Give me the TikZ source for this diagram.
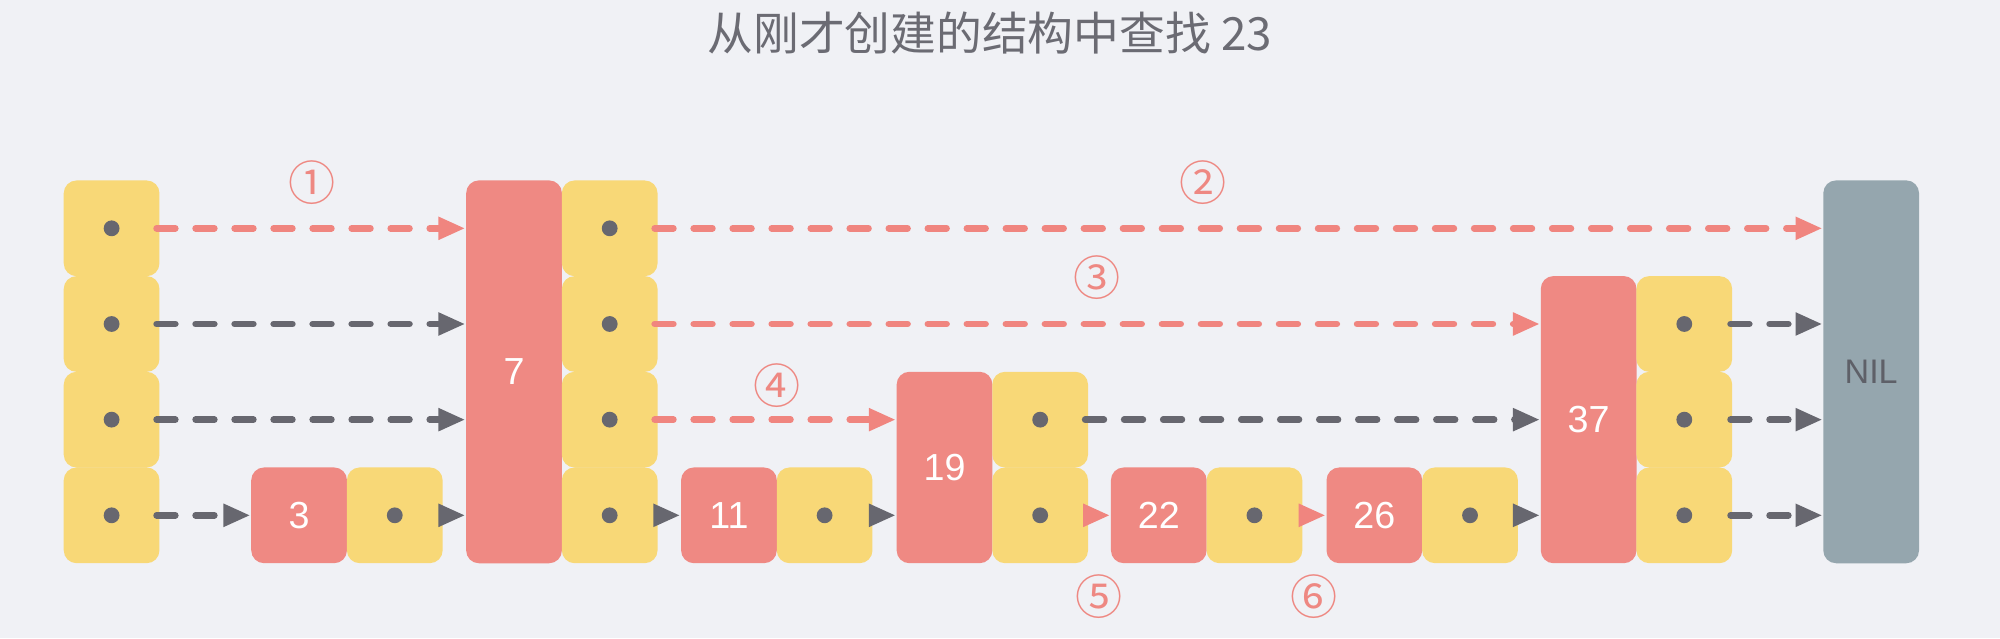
\documentclass[tikz,border=0pt]{standalone}
\usepackage{fontspec}
\setmainfont{Liberation Sans}
\newfontfamily\cjkf{Noto Sans CJK SC}
\usetikzlibrary{arrows.meta}
\definecolor{bgc}{HTML}{F0F1F5}
\definecolor{yel}{HTML}{F8D877}
\definecolor{redb}{HTML}{EF8983}
\definecolor{reda}{HTML}{F0857F}
\definecolor{grya}{HTML}{67676F}
\definecolor{nilc}{HTML}{95A6AE}
\definecolor{niltxt}{HTML}{5E6068}
\definecolor{titc}{HTML}{6B6B73}
\definecolor{numc}{HTML}{EE8882}
\tikzset{
  box/.style={rounded corners=0.1cm, inner sep=0pt, minimum width=0.75cm},
  ybox/.style={box, fill=yel, minimum height=0.75cm},
  rbox/.style={box, fill=redb, text=white, font=\fontsize{8.4}{9}\selectfont},
  nilbox/.style={box, fill=nilc, text=niltxt, minimum height=3cm, font=\fontsize{7.6}{9}\selectfont},
  arr/.style={line width=1.45pt, -{Triangle[length=6pt,width=4.8pt]}},
  dsh/.style={arr, dash pattern=on 4.2pt off 4.5pt, line cap=round},
  tiponly/.style={arr, line cap=butt},
  cnum/.style={text=numc, font=\cjkf\fontsize{10.5}{11}\selectfont, inner sep=0pt},
  titl/.style={text=titc, font=\cjkf\fontsize{10.2}{12}\selectfont, inner sep=0pt}
}
\begin{document}
\begin{tikzpicture}[x=0.01cm,y=-0.01cm]
\fill[bgc] (0,0) rectangle (1568,500.2);
\useasboundingbox (0,0) rectangle (1568,500.2);
\node[titl] (title) at (776,26) {从刚才创建的结构中查找 23};
% head column
\node[ybox] (h1) at (87.5,179) {};
\node[ybox] (h2) at (87.5,254) {};
\node[ybox] (h3) at (87.5,329) {};
\node[ybox] (h4) at (87.5,404) {};
% node 3
\node[rbox, minimum height=0.75cm] (n3) at (234.5,404) {3};
\node[ybox] (y3) at (309.5,404) {};
% node 7
\node[rbox, minimum height=3cm] (n7) at (403,291.5) {7};
\node[ybox] (y7a) at (478,179) {};
\node[ybox] (y7b) at (478,254) {};
\node[ybox] (y7c) at (478,329) {};
\node[ybox] (y7d) at (478,404) {};
% node 11
\node[rbox, minimum height=0.75cm] (n11) at (571.5,404) {11};
\node[ybox] (y11) at (646.5,404) {};
% node 19
\node[rbox, minimum height=1.5cm] (n19) at (740.5,366.5) {19};
\node[ybox] (y19c) at (815.5,329) {};
\node[ybox] (y19d) at (815.5,404) {};
% node 22
\node[rbox, minimum height=0.75cm] (n22) at (908.5,404) {22};
\node[ybox] (y22) at (983.5,404) {};
% node 26
\node[rbox, minimum height=0.75cm] (n26) at (1077.5,404) {26};
\node[ybox] (y26) at (1152.5,404) {};
% node 37
\node[rbox, minimum height=2.25cm] (n37) at (1245.5,329) {37};
\node[ybox] (y37b) at (1320.5,254) {};
\node[ybox] (y37c) at (1320.5,329) {};
\node[ybox] (y37d) at (1320.5,404) {};
% NIL
\node[nilbox] (nil) at (1467,291.5) {NIL};
% dots
\foreach \n in {h1,h2,h3,h4,y3,y7a,y7b,y7c,y7d,y11,y19c,y19d,y22,y26,y37b,y37c,y37d}
  \fill[grya] (\n.center) circle (0.062cm);
% row 1
\draw[dsh, reda] ([xshift=-0.03cm]h1.east) -- (h1.east -| n7.west);
\draw[dsh, reda] ([xshift=-0.03cm]y7a.east) -- (y7a.east -| nil.west);
% row 2
\draw[dsh, grya] ([xshift=-0.03cm]h2.east) -- (h2.east -| n7.west);
\draw[dsh, reda] ([xshift=-0.03cm]y7b.east) -- (y7b.east -| n37.west);
\draw[dsh, grya] ([xshift=-0.02cm]y37b.east) -- (y37b.east -| nil.west);
% row 3
\draw[dsh, grya] ([xshift=-0.03cm]h3.east) -- (h3.east -| n7.west);
\draw[dsh, reda] ([xshift=-0.03cm]y7c.east) -- (y7c.east -| n19.west);
\draw[dsh, grya] ([xshift=-0.03cm]y19c.east) -- (y19c.east -| n37.west);
\draw[dsh, grya] ([xshift=-0.02cm]y37c.east) -- (y37c.east -| nil.west);
% row 4
\draw[dsh, grya] ([xshift=-0.03cm]h4.east) -- (n3.west);
\draw[tiponly, grya] ([xshift=-0.02cm]y3.east) -- (y3.east -| n7.west);
\draw[tiponly, grya] ([xshift=-0.02cm]y7d.east) -- (n11.west);
\draw[tiponly, grya] ([xshift=-0.02cm]y11.east) -- (y11.east -| n19.west);
\draw[tiponly, reda] ([xshift=-0.02cm]y19d.east) -- (n22.west);
\draw[tiponly, reda] ([xshift=-0.02cm]y22.east) -- (n26.west);
\draw[tiponly, grya] ([xshift=-0.02cm]y26.east) -- (y26.east -| n37.west);
\draw[dsh, grya] ([xshift=-0.02cm]y37d.east) -- (y37d.east -| nil.west);
% step labels
\node[cnum] (s1) at (245,143) {①};
\node[cnum] (s2) at (943,143) {②};
\node[cnum] (s3) at (860,218) {③};
\node[cnum] (s4) at (609,302) {④};
\node[cnum] (s5) at (862,468) {⑤};
\node[cnum] (s6) at (1030,468) {⑥};
\end{tikzpicture}
\end{document}
